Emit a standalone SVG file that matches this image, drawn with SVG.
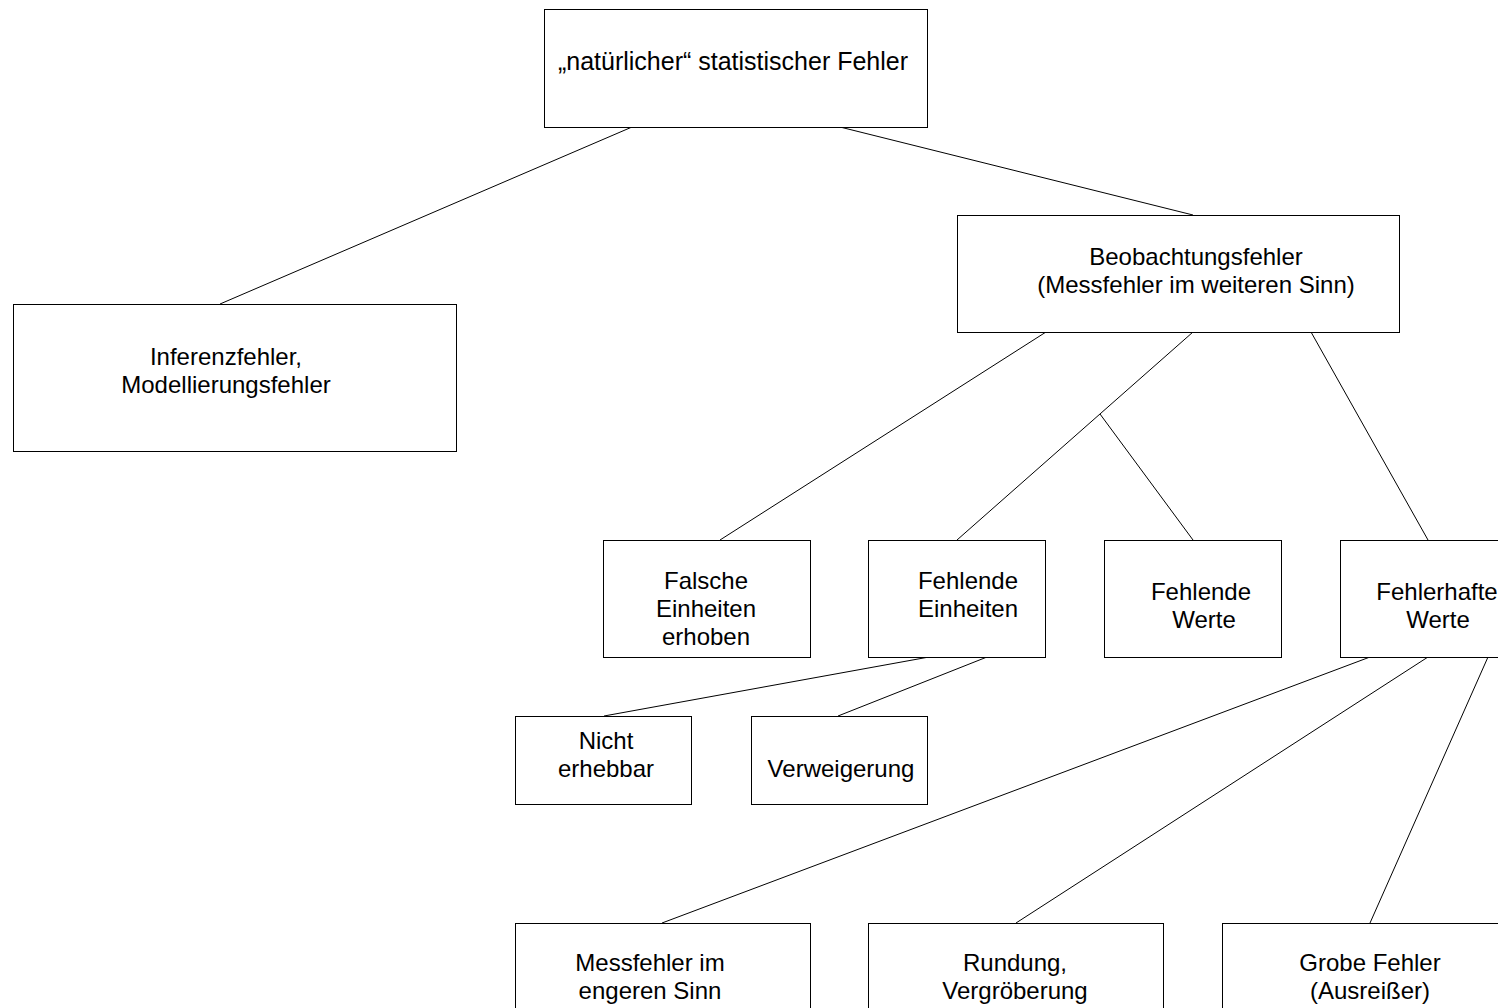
<svg xmlns="http://www.w3.org/2000/svg" width="1498" height="1008" viewBox="0 0 1498 1008">
<style>
.box{fill:#fff;stroke:#000;stroke-width:1}
.t{font-family:"Liberation Sans",Arial,sans-serif;font-size:24px;fill:#000;text-anchor:middle;dominant-baseline:central}
.c{stroke:#000;stroke-width:1;fill:none}
</style>
<rect width="1498" height="1008" fill="#fff"/>
<g id="connectors">
<line class="c" x1="632" y1="127" x2="220" y2="304"/>
<line class="c" x1="840" y1="127" x2="1193" y2="215"/>
<line class="c" x1="1046" y1="332" x2="720" y2="540"/>
<line class="c" x1="1193" y1="332" x2="957" y2="540"/>
<line class="c" x1="1100" y1="414" x2="1193" y2="540"/>
<line class="c" x1="1311" y1="332" x2="1428" y2="540"/>
<line class="c" x1="929" y1="657" x2="604" y2="716"/>
<line class="c" x1="987" y1="657" x2="838" y2="716"/>
<line class="c" x1="1370" y1="657" x2="662" y2="923"/>
<line class="c" x1="1428" y1="657" x2="1016" y2="923"/>
<line class="c" x1="1488" y1="657" x2="1370" y2="923"/>
</g>
<g id="n-root">
<rect class="box" x="544.5" y="9.5" width="383" height="118"/>
<text class="t" x="733" y="61" style="font-size:25px">„natürlicher“ statistischer Fehler</text>
</g>
<g id="n-inferenz">
<rect class="box" x="13.5" y="304.5" width="443" height="147"/>
<text class="t" x="226" y="356">Inferenzfehler,</text>
<text class="t" x="226" y="384">Modellierungsfehler</text>
</g>
<g id="n-beobachtung">
<rect class="box" x="957.5" y="215.5" width="442" height="117"/>
<text class="t" x="1196" y="256">Beobachtungsfehler</text>
<text class="t" x="1196" y="284">(Messfehler im weiteren Sinn)</text>
</g>
<g id="n-falsche">
<rect class="box" x="603.5" y="540.5" width="207" height="117"/>
<text class="t" x="706" y="580">Falsche</text>
<text class="t" x="706" y="608">Einheiten</text>
<text class="t" x="706" y="636">erhoben</text>
</g>
<g id="n-fehlende-einheiten">
<rect class="box" x="868.5" y="540.5" width="177" height="117"/>
<text class="t" x="968" y="580">Fehlende</text>
<text class="t" x="968" y="608">Einheiten</text>
</g>
<g id="n-fehlende-werte">
<rect class="box" x="1104.5" y="540.5" width="177" height="117"/>
<text class="t" x="1201" y="591">Fehlende</text>
<text class="t" x="1204" y="619">Werte</text>
</g>
<g id="n-fehlerhafte-werte">
<rect class="box" x="1340.5" y="540.5" width="177" height="117"/>
<text class="t" x="1437" y="591">Fehlerhafte</text>
<text class="t" x="1438" y="619">Werte</text>
</g>
<g id="n-nicht-erhebbar">
<rect class="box" x="515.5" y="716.5" width="176" height="88"/>
<text class="t" x="606" y="740">Nicht</text>
<text class="t" x="606" y="768">erhebbar</text>
</g>
<g id="n-verweigerung">
<rect class="box" x="751.5" y="716.5" width="176" height="88"/>
<text class="t" x="841" y="768">Verweigerung</text>
</g>
<g id="n-messfehler-eng">
<rect class="box" x="515.5" y="923.5" width="295" height="118"/>
<text class="t" x="650" y="962">Messfehler im</text>
<text class="t" x="650" y="990">engeren Sinn</text>
</g>
<g id="n-rundung">
<rect class="box" x="868.5" y="923.5" width="295" height="118"/>
<text class="t" x="1015" y="962">Rundung,</text>
<text class="t" x="1015" y="990">Vergröberung</text>
</g>
<g id="n-grobe">
<rect class="box" x="1222.5" y="923.5" width="295" height="118"/>
<text class="t" x="1370" y="962">Grobe Fehler</text>
<text class="t" x="1370" y="990">(Ausreißer)</text>
</g>
</svg>
